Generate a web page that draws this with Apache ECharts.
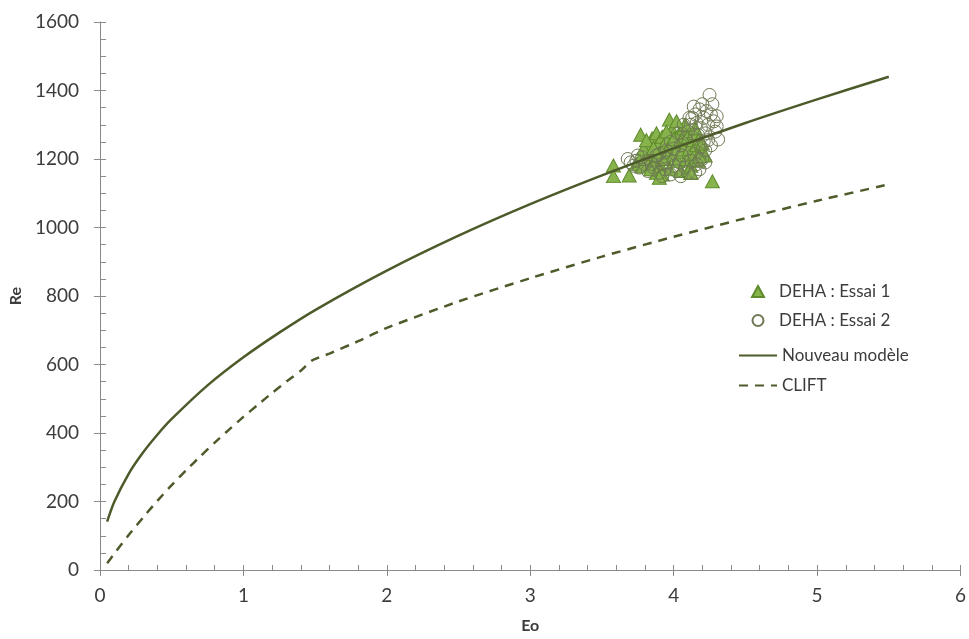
<!DOCTYPE html>
<html>
<head>
<meta charset="utf-8">
<script src="https://cdn.jsdelivr.net/npm/echarts@6/dist/echarts.min.js"></script>
<style>html,body{margin:0;padding:0;background:#fff;}#c{width:969px;height:639px;}</style>
</head>
<body>
<div id="c"></div>
<script>
// ---- data ----
const seriesNames = ['DEHA : Essai 1', 'DEHA : Essai 2', 'Nouveau modèle', 'CLIFT'];

const essai1Eo = [3.58,3.58,3.69,3.77,3.97,4.27,3.74,3.76,3.78,3.80,3.82,3.83,3.85,3.86,3.87,3.88,3.89,3.90,3.91,3.92,3.93,3.94,3.95,3.96,3.97,3.98,3.99,4.00,4.01,4.02,4.03,4.04,4.05,4.06,4.07,4.08,4.09,4.10,4.11,4.12,4.13,4.14,4.15,4.16,4.17,4.18,4.19,4.20,3.88,3.92,4.05,4.12,3.84,3.95,4.08,4.02,4.22,3.79,3.81,4.15,4.11,3.90,4.12,3.86,4.00,4.18];
const essai1Re = [1181,1150,1152,1271,1315,1135,1185,1195,1178,1200,1215,1240,1260,1190,1228,1275,1208,1250,1180,1265,1235,1200,1255,1220,1170,1245,1285,1210,1262,1230,1195,1275,1250,1220,1290,1240,1200,1265,1230,1180,1255,1275,1215,1240,1195,1260,1225,1245,1160,1155,1165,1160,1170,1280,1300,1310,1210,1230,1255,1290,1168,1145,1160,1232,1258,1208];

const essai2Eo = [3.68,3.70,3.72,3.74,3.76,3.78,3.80,3.82,3.84,3.86,3.88,3.90,3.92,3.94,3.96,3.98,4.00,4.02,4.04,4.06,4.08,4.10,4.12,4.14,4.16,4.18,4.20,4.22,4.19,4.21,4.05,4.08,4.10,4.12,4.13,4.15,4.16,4.18,4.19,4.20,4.21,4.22,4.23,4.24,4.25,4.26,4.27,4.28,4.29,4.30,4.31,4.30,4.14,4.17,4.24,4.26,4.00,3.98,4.03,4.07,4.11,3.95,3.90,3.85,3.75,3.95,4.15,4.05,3.92,4.22,4.18];
const essai2Re = [1200,1190,1180,1195,1175,1205,1185,1165,1195,1175,1210,1160,1185,1170,1200,1155,1180,1165,1190,1210,1175,1160,1195,1215,1185,1170,1200,1190,1235,1250,1240,1260,1280,1300,1320,1330,1305,1345,1290,1360,1320,1275,1340,1300,1387,1330,1360,1310,1280,1325,1257,1295,1353,1270,1255,1240,1230,1250,1275,1300,1320,1225,1215,1185,1210,1190,1160,1150,1150,1225,1198];

const modeleEo = [0.05,0.1,0.2,0.3,0.4,0.5,0.75,1,1.25,1.5,2,2.5,3,3.5,4,4.5,5,5.5];
const modeleRe = [141,199,281,343,395,441,539,621,693,759,874,976,1068,1152,1231,1305,1374,1440];

const cliftEo = [0.05,0.1,0.2,0.3,0.4,0.5,0.6,0.7,0.8,0.9,1.0,1.1,1.2,1.3,1.4,1.48,1.6,1.8,2,2.5,3,3.5,4,4.5,5,5.5];
const cliftRe = [20,48,102,153,202,248,291,332,372,410,447,482,517,550,582,612,632,668,707,784,852,915,973,1027,1078,1126];

const xTicks = {min:0, max:6, interval:1};
const yTicks = {min:0, max:1600, interval:200};

// ---- chart ----
const zip = (a,b) => a.map((v,i)=>[v,b[i]]);
const axisGray = '#8a8a8a';
const textCol = '#3c3c3c';
const lineCol = '#4d5b2b';
const plain = v => String(v);

const chart = echarts.init(document.getElementById('c'), null, {renderer:'canvas'});
const baseX = {type:'value', min:xTicks.min, max:xTicks.max, interval:xTicks.interval, splitLine:{show:false}};
const baseY = {type:'value', min:yTicks.min, max:yTicks.max, interval:yTicks.interval, splitLine:{show:false}};
const legendText = {fontFamily:'Lato', fontSize:17, color:textCol};
chart.setOption({
  animation:false,
  backgroundColor:'#fff',
  grid:{left:99, right:7, top:22, bottom:67, containLabel:false},
  xAxis:[
    Object.assign({}, baseX, {
      position:'bottom',
      name:'Eo', nameLocation:'middle', nameGap:48,
      nameTextStyle:{fontFamily:'Lato', fontWeight:'bold', fontSize:16, color:textCol},
      axisLine:{show:true, lineStyle:{color:axisGray, width:1}},
      axisTick:{show:true, inside:false, length:6, lineStyle:{color:axisGray}},
      axisLabel:{show:true, margin:16, fontFamily:'Lato', fontSize:19, color:textCol, formatter:plain}
    }),
    Object.assign({}, baseX, {
      position:'bottom',
      axisLine:{show:false},
      axisTick:{show:true, inside:true, length:5, lineStyle:{color:axisGray}},
      minorTick:{show:true, splitNumber:5, length:5, lineStyle:{color:axisGray}},
      axisLabel:{show:false}
    })
  ],
  yAxis:[
    Object.assign({}, baseY, {
      position:'left',
      name:'Re', nameLocation:'middle', nameGap:74, nameRotate:90,
      nameTextStyle:{fontFamily:'Lato', fontWeight:'bold', fontSize:16, color:textCol},
      axisLine:{show:true, lineStyle:{color:axisGray, width:1}},
      axisTick:{show:true, inside:false, length:6, lineStyle:{color:axisGray}},
      axisLabel:{show:true, margin:21, fontFamily:'Lato', fontSize:19, color:textCol, formatter:plain}
    }),
    Object.assign({}, baseY, {
      position:'left',
      axisLine:{show:false},
      axisTick:{show:true, inside:true, length:6, lineStyle:{color:axisGray}},
      minorTick:{show:true, splitNumber:4, length:6, lineStyle:{color:axisGray}},
      axisLabel:{show:false}
    })
  ],
  legend:[
    {
      orient:'vertical', left:746, top:278,
      itemWidth:12, itemHeight:11, itemGap:12,
      symbolKeepAspect:true,
      data:[
        {name:seriesNames[0], icon:'triangle'},
        {name:seriesNames[1], icon:'circle'}
      ],
      textStyle:Object.assign({padding:[0,0,0,10]}, legendText)
    },
    {
      orient:'vertical', left:733, top:342,
      itemWidth:38, itemHeight:11, itemGap:13,
      data:[
        {name:seriesNames[2], itemStyle:{opacity:0}},
        {name:seriesNames[3], itemStyle:{opacity:0}}
      ],
      textStyle:legendText
    }
  ],
  series:[
    {
      name:seriesNames[0], type:'scatter', xAxisIndex:0, yAxisIndex:0, z:2,
      symbol:'triangle', symbolSize:[14,13],
      itemStyle:{color:'#86b34c', borderColor:'#5f8a2c', borderWidth:1, opacity:1},
      data:zip(essai1Eo, essai1Re)
    },
    {
      name:seriesNames[1], type:'scatter', xAxisIndex:0, yAxisIndex:0, z:3,
      symbol:'circle', symbolSize:13,
      itemStyle:{color:'rgba(255,255,255,0)', borderColor:'#6f7a55', borderWidth:1, opacity:1},
      data:zip(essai2Eo, essai2Re)
    },
    {
      name:seriesNames[2], type:'line', xAxisIndex:0, yAxisIndex:0, z:4,
      smooth:0.3, showSymbol:false, symbol:'none',
      lineStyle:{color:lineCol, width:2.5, type:'solid'},
      itemStyle:{color:lineCol},
      data:zip(modeleEo, modeleRe)
    },
    {
      name:seriesNames[3], type:'line', xAxisIndex:0, yAxisIndex:0, z:4,
      smooth:0.2, showSymbol:false, symbol:'none',
      lineStyle:{color:lineCol, width:2.5, type:[9,7]},
      itemStyle:{color:lineCol},
      data:zip(cliftEo, cliftRe)
    }
  ]
});
</script>
</body>
</html>
